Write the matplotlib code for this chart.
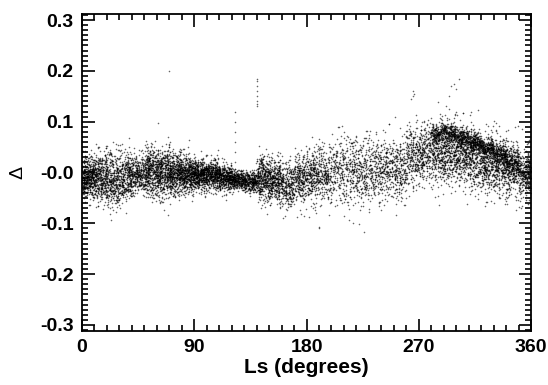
import numpy as np
import matplotlib
matplotlib.use("Agg")
import matplotlib.pyplot as plt
from matplotlib.ticker import MultipleLocator

# Ls bins (degrees, 10 deg wide) with the centre / spread / point count of
# the main cloud
bin_lo = [0, 10, 20, 30, 40, 50, 60, 70, 80, 90, 100, 110, 120, 130, 140, 150, 160, 170,
          180, 190, 200, 210, 220, 230, 240, 250, 260, 270, 280, 290, 300, 310, 320, 330, 340, 350]
bin_mid = [-0.008, -0.010, -0.015, -0.008, -0.005, 0.000, 0.000, -0.002, -0.003, -0.003, -0.005, -0.010,
           -0.015, -0.018, -0.010, -0.015, -0.025, -0.015, -0.005, -0.005, 0.005, 0.005, 0.000, 0.000,
           0.005, 0.010, 0.030, 0.035, 0.040, 0.040, 0.035, 0.030, 0.020, 0.015, 0.008, 0.000]
bin_sd = [0.020, 0.022, 0.028, 0.024, 0.020, 0.024, 0.024, 0.020, 0.018, 0.016, 0.015, 0.013,
          0.009, 0.010, 0.022, 0.020, 0.022, 0.024, 0.026, 0.030, 0.034, 0.034, 0.034, 0.032,
          0.030, 0.030, 0.030, 0.030, 0.032, 0.030, 0.030, 0.030, 0.030, 0.028, 0.028, 0.024]
bin_n = [420, 380, 320, 320, 280, 400, 400, 450, 450, 460, 420, 380, 320, 300, 360, 340, 260, 260,
         260, 220, 170, 170, 190, 190, 190, 210, 230, 250, 280, 300, 300, 300, 300, 300, 300, 280]

# narrow dense band seen in the second half of the year
band_lo = [280, 290, 300, 310, 320, 330, 340]
band_mid = [0.075, 0.078, 0.070, 0.060, 0.048, 0.033, 0.018]
band_sd = [0.010, 0.009, 0.009, 0.009, 0.009, 0.010, 0.010]
band_n = [150, 180, 180, 190, 190, 170, 120]

# isolated streaks / outliers
out_ls = [123, 123, 123, 123, 123, 123, 140, 140, 140, 140, 140, 140, 140, 140,
          264, 265, 266, 265, 292, 294, 296, 298, 300, 302, 70, 190, 226]
out_d = [0.02, 0.04, 0.06, 0.08, 0.10, 0.12, 0.13, 0.14, 0.15, 0.16, 0.17, 0.18, 0.185, 0.135,
         0.145, 0.15, 0.155, 0.16, 0.13, 0.15, 0.17, 0.175, 0.165, 0.185, 0.2, -0.108, -0.117]

rng = np.random.default_rng(7)
xs, ys = [], []
for lo, m, sd, n in list(zip(bin_lo, bin_mid, bin_sd, bin_n)) + list(zip(band_lo, band_mid, band_sd, band_n)):
    xs.append(rng.uniform(lo, lo + 10, n))
    ys.append(rng.normal(m, sd, n))
xs = np.concatenate(xs + [np.array(out_ls, float)])
ys = np.concatenate(ys + [np.array(out_d)])

plt.rcParams['font.family'] = ['Liberation Sans', 'DejaVu Sans']
fig = plt.figure(figsize=(5.48, 3.85), dpi=100)
ax = fig.add_axes([82 / 548, 1 - 331 / 385, 449 / 548, 317 / 385])
ax.scatter(xs, ys, s=1.3, marker='o', color='black', linewidths=0, alpha=0.6)

ax.set_xlim(0, 360)
ax.set_ylim(-0.312, 0.312)
ax.xaxis.set_major_locator(MultipleLocator(90))
ax.xaxis.set_minor_locator(MultipleLocator(10))
ax.yaxis.set_major_locator(MultipleLocator(0.1))
ax.yaxis.set_minor_locator(MultipleLocator(0.01))
ax.set_yticks([0.3, 0.2, 0.1, 0.0, -0.1, -0.2, -0.3])
ax.set_yticklabels(['0.3', '0.2', '0.1', '-0.0', '-0.1', '-0.2', '-0.3'])
ax.tick_params(which='both', direction='in', top=True, right=True, width=1.2,
               labelsize=14, pad=6)
ax.tick_params(which='major', length=9)
ax.tick_params(which='minor', length=4)
for lbl in ax.get_xticklabels() + ax.get_yticklabels():
    lbl.set_fontweight('bold')
for sp in ax.spines.values():
    sp.set_linewidth(1.3)

ax.set_xlabel('Ls (degrees)', fontsize=15, fontweight='bold', labelpad=1)
ax.set_ylabel('Δ', fontsize=14, labelpad=10)

fig.savefig('out.png', dpi=100)
